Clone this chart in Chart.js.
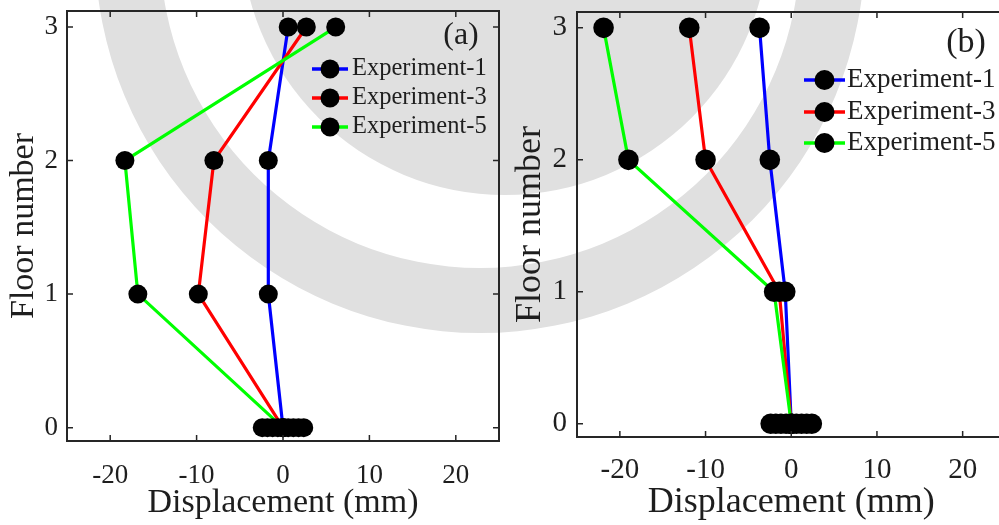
<!DOCTYPE html>
<html>
<head>
<meta charset="utf-8">
<script src="https://cdn.jsdelivr.net/npm/chart.js@4.4.1/dist/chart.umd.min.js"></script>
<style>
  html, body { margin: 0; padding: 0; background: #fff; }
  body { width: 999px; height: 525px; position: relative; overflow: hidden; }
  #logo { position: absolute; left: 0; top: 0; }
  .panel { position: absolute; top: 0; height: 525px; }
  #panelA { left: 0; width: 500px; }
  #panelB { left: 500px; width: 510px; }
</style>
</head>
<body>
<canvas id="logo" width="999" height="525"></canvas>
<div class="panel" id="panelA"><canvas id="chartA"></canvas></div>
<div class="panel" id="panelB"><canvas id="chartB"></canvas></div>
<script>
const floors = [0, 1, 2, 3];
const seriesNames = ['Experiment-1', 'Experiment-3', 'Experiment-5'];
const seriesColors = ['#0000FF', '#FF0000', '#00FF00'];

// panel (a) displacements per floor (mm)
const dispA1 = [0, -1.7, -1.7, 0.6];
const dispA3 = [0, -9.8, -8.0, 2.7];
const dispA5 = [0, -16.8, -18.3, 6.1];

// panel (b) displacements per floor (mm)
const dispB1 = [0, -0.7, -2.5, -3.7];
const dispB3 = [0, -1.4, -10.0, -11.9];
const dispB5 = [0, -2.0, -19.0, -21.9];

// markers sitting on the ground floor
const baseMarks = [-2.4, -1.8, -1.2, -0.6, 0, 0.6, 1.2, 1.8, 2.4];

const xTicks = [-20, -10, 0, 10, 20];
const yTicks = [0, 1, 2, 3];

const SERIF = "'Liberation Serif', 'Times New Roman', serif";
const INK = '#1e1e1e';

// faint ring logo behind both panels
const lg = document.getElementById('logo').getContext('2d');
lg.fillStyle = '#e0e0e0';
lg.beginPath();
lg.moveTo(480 + 385, -52);
lg.arc(480, -52, 385, 0, Math.PI * 2);
lg.moveTo(480 + 320, -52);
lg.arc(480, -52, 320, 0, Math.PI * 2);
lg.fill('evenodd');
lg.beginPath();
lg.arc(505, -69, 264, 0, Math.PI * 2);
lg.fill();

// box round the plot with inward ticks on all four sides
const framePlugin = {
  id: 'frame',
  afterDraw(chart) {
    const { ctx, chartArea: a, scales } = chart;
    ctx.save();
    ctx.strokeStyle = '#262626';
    ctx.lineWidth = 2;
    ctx.strokeRect(a.left, a.top, a.right - a.left, a.bottom - a.top);
    ctx.lineWidth = 1.5;
    ctx.beginPath();
    scales.x.ticks.forEach(t => {
      const px = scales.x.getPixelForValue(t.value);
      ctx.moveTo(px, a.bottom); ctx.lineTo(px, a.bottom - 6);
      ctx.moveTo(px, a.top); ctx.lineTo(px, a.top + 6);
    });
    scales.y.ticks.forEach(t => {
      const py = scales.y.getPixelForValue(t.value);
      ctx.moveTo(a.left, py); ctx.lineTo(a.left + 6, py);
      ctx.moveTo(a.right, py); ctx.lineTo(a.right - 6, py);
    });
    ctx.stroke();
    ctx.restore();
  }
};

// legend with line + marker samples, and the panel tag
const keyPlugin = {
  id: 'key',
  afterDraw(chart, args, opts) {
    const { ctx } = chart;
    ctx.save();
    chart.data.datasets.forEach((ds, i) => {
      if (!ds.label) return;
      const y = opts.rows[i];
      ctx.strokeStyle = ds.borderColor;
      ctx.lineWidth = 3.5;
      ctx.beginPath();
      ctx.moveTo(opts.x0, y);
      ctx.lineTo(opts.x1, y);
      ctx.stroke();
      ctx.fillStyle = '#000';
      ctx.beginPath();
      ctx.arc((opts.x0 + opts.x1) / 2, y, opts.r, 0, Math.PI * 2);
      ctx.fill();
      ctx.fillStyle = INK;
      ctx.font = opts.size + 'px ' + SERIF;
      ctx.textAlign = 'left';
      ctx.textBaseline = 'middle';
      ctx.fillText(ds.label, opts.textX, y);
    });
    ctx.font = opts.tagSize + 'px ' + SERIF;
    ctx.textAlign = 'center';
    ctx.textBaseline = 'middle';
    ctx.fillStyle = INK;
    ctx.fillText(opts.tag, opts.tagX, opts.tagY);
    ctx.restore();
  }
};

// fixed axis sizes, no extra room kept for overhanging labels
function pinSize(s, w, h) {
  if (w !== null) s.width = w;
  if (h !== null) s.height = h;
  s.paddingTop = 0;
  s.paddingBottom = 0;
  s.paddingLeft = 0;
  s.paddingRight = 0;
}

function makePanel(id, p) {
  const sets = p.series.map((vals, i) => ({
    label: seriesNames[i],
    data: floors.map((f, k) => ({ x: vals[k], y: f })),
    showLine: true,
    borderColor: seriesColors[i],
    borderWidth: 3.2,
    tension: 0,
    pointRadius: p.dot,
    pointBackgroundColor: '#000',
    pointBorderWidth: 0,
    order: 4 - i
  }));
  sets.push({
    label: '',
    data: baseMarks.map(v => ({ x: v, y: 0 })),
    showLine: false,
    pointRadius: p.dot,
    pointBackgroundColor: '#000',
    pointBorderWidth: 0,
    order: 0
  });

  return new Chart(document.getElementById(id), {
    type: 'scatter',
    data: { datasets: sets },
    options: {
      responsive: true,
      maintainAspectRatio: false,
      animation: false,
      events: [],
      layout: {
        autoPadding: false,
        padding: { left: 0, right: p.padRight, top: p.padTop, bottom: 0 }
      },
      plugins: {
        legend: { display: false },
        tooltip: { enabled: false },
        key: p.key
      },
      scales: {
        x: {
          type: 'linear',
          min: -25,
          max: 25,
          afterBuildTicks: s => { s.ticks = xTicks.map(v => ({ value: v })); },
          afterFit: s => pinSize(s, null, p.xAxisH),
          grid: { display: false, drawTicks: false },
          border: { display: false },
          ticks: {
            autoSkip: false, maxRotation: 0,
            padding: p.xTickPad,
            color: INK,
            font: { family: SERIF, size: p.tickSize, lineHeight: 1 },
            callback: v => String(v)
          },
          title: {
            display: true,
            text: 'Displacement (mm)',
            color: INK,
            font: { family: SERIF, size: p.titleSize, lineHeight: 1 },
            padding: { top: 0, bottom: p.xTitlePad }
          }
        },
        y: {
          type: 'linear',
          min: -0.1,
          max: 3.12,
          afterBuildTicks: s => { s.ticks = yTicks.map(v => ({ value: v })); },
          afterFit: s => pinSize(s, p.yAxisW, null),
          grid: { display: false, drawTicks: false },
          border: { display: false },
          ticks: {
            autoSkip: false,
            padding: p.yTickPad,
            color: INK,
            font: { family: SERIF, size: p.tickSize, lineHeight: 1 },
            callback: v => String(v)
          },
          title: {
            display: true,
            text: 'Floor number',
            color: INK,
            font: { family: SERIF, size: p.titleSize, lineHeight: 1 },
            padding: { top: p.yTitlePad, bottom: 0 }
          }
        }
      }
    },
    plugins: [framePlugin, keyPlugin]
  });
}

makePanel('chartA', {
  series: [dispA1, dispA3, dispA5],
  dot: 9.5,
  padTop: 11, padRight: 1,
  xAxisH: 84, yAxisW: 67,
  tickSize: 27, titleSize: 34,
  xTickPad: 21, yTickPad: 9,
  xTitlePad: 5, yTitlePad: 7,
  key: { x0: 312, x1: 348, r: 9.5, textX: 352, rows: [69, 98, 127], size: 24.5,
         tag: '(a)', tagX: 461, tagY: 36, tagSize: 32 }
});

makePanel('chartB', {
  series: [dispB1, dispB3, dispB5],
  dot: 10.3,
  padTop: 12, padRight: 4.5,
  xAxisH: 88, yAxisW: 77,
  tickSize: 29, titleSize: 36,
  xTickPad: 19, yTickPad: 10,
  xTitlePad: 4, yTitlePad: 13,
  key: { x0: 304, x1: 345, r: 10, textX: 347, rows: [80, 112, 143], size: 27,
         tag: '(b)', tagX: 466, tagY: 43, tagSize: 34 }
});
</script>
</body>
</html>
